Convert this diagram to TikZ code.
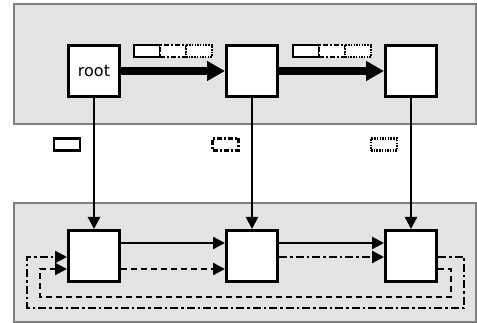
\documentclass[tikz,border=0pt]{standalone}
\usepackage{fontspec}
\setmainfont{DejaVu Sans}
\usetikzlibrary{arrows.meta,calc}
\tikzset{
  panel/.style={draw=black!50,fill=black!11,line width=1.2pt},
  blk/.style={draw,fill=white,line width=3pt,minimum size=51pt,inner sep=0pt,font=\fontsize{16}{18}\selectfont},
  fat/.style={line width=7.5pt,-{Triangle[length=18pt,width=19pt]}},
  thin/.style={line width=2.4pt,-{Triangle[length=12pt,width=12pt]}},
  dd/.style={dash pattern=on 8pt off 3pt on 2.5pt off 3pt},
  ds/.style={dash pattern=on 6pt off 4pt},
  tag/.style={draw,fill=white,line width=2.6pt,minimum width=26pt,minimum height=12pt,inner sep=0pt},
  tagdd/.style={tag,dash pattern=on 5pt off 2pt on 2pt off 2pt},
  tagdot/.style={tag,line width=2.2pt,dash pattern=on 1.5pt off 1.2pt},
}
\begin{document}
\begin{tikzpicture}[x=1pt,y=-1pt]
\useasboundingbox (0,0) rectangle (477,323);
\fill[white] (0,0) rectangle (477,323);
\draw[panel] (14,4) rectangle (476,124);
\draw[panel] (14,203) rectangle (476,322);
% top row
\node[blk] (t1) at (94,71) {root};
\node[blk] (t2) at (252,71) {};
\node[blk] (t3) at (411,71) {};
% bottom row
\node[blk] (b1) at (94,256) {};
\node[blk] (b2) at (252,256) {};
\node[blk] (b3) at (411,256) {};
% thick arrows
\draw[fat] (t1.east) -- (t2.west);
\draw[fat] (t2.east) -- (t3.west);
% tags above arrows
\node[tag] (a1) at (147,51) {};
\node[tagdd] (a2) at (173,51) {};
\node[tagdot] (a3) at (199,51) {};
\node[tag] (c1) at (306,51) {};
\node[tagdd] (c2) at (332,51) {};
\node[tagdot] (c3) at (358,51) {};
% middle tags
\node[tag] (m1) at (67,144.5) {};
\node[tagdd] (m2) at (225.5,144.5) {};
\node[tagdot] (m3) at (384,144.5) {};
% vertical arrows
\draw[thin] (t1.south) -- (b1.north);
\draw[thin] (t2.south) -- (b2.north);
\draw[thin] (t3.south) -- (b3.north);
% bottom horizontal arrows
\draw[thin] ($(b1.east)+(0,-13)$) -- ($(b2.west)+(0,-13)$);
\draw[thin] ($(b2.east)+(0,-13)$) -- ($(b3.west)+(0,-13)$);
\draw[thin,ds] ($(b1.east)+(0,13)$) -- ($(b2.west)+(0,13)$);
\draw[thin,dd] ($(b2.east)+(0,1)$) -- ($(b3.west)+(0,1)$);
% loops
\coordinate (dd1) at (464,308);
\coordinate (dd2) at (27,308);
\draw[thin,dd] ($(b3.east)+(0,1)$) -| (dd1) -- (dd2) |- ($(b1.west)+(0,1)$);
\coordinate (ds1) at (451,297);
\coordinate (ds2) at (40,297);
\draw[thin,ds] ($(b3.east)+(0,13)$) -| (ds1) -- (ds2) |- ($(b1.west)+(0,13)$);
\end{tikzpicture}
\end{document}
